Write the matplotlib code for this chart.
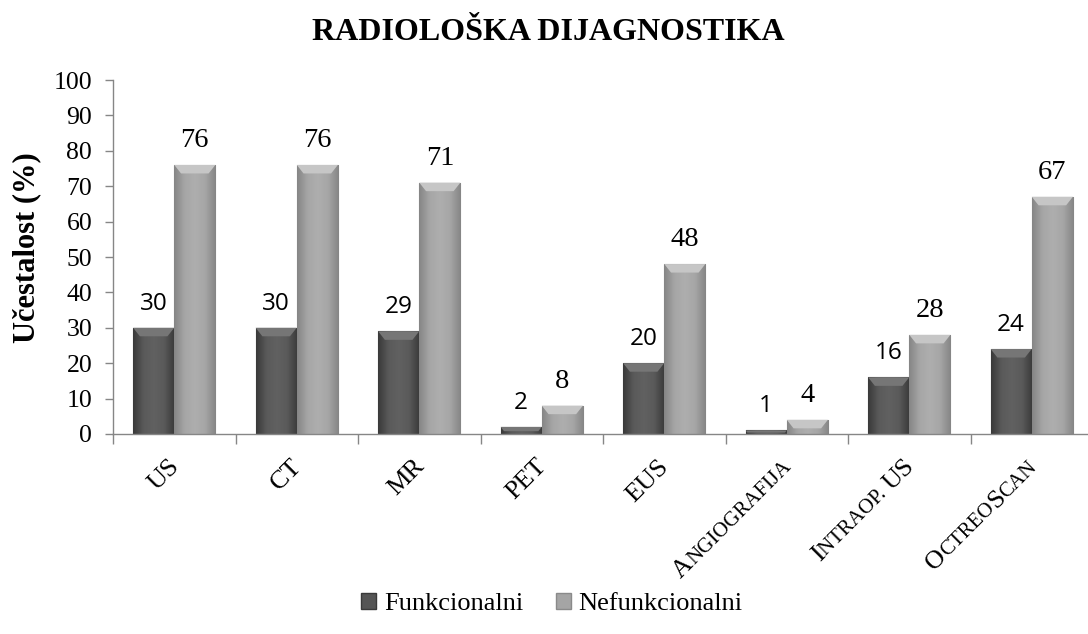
import numpy as np
import matplotlib
matplotlib.use('Agg')
import matplotlib.pyplot as plt
from matplotlib.colors import LinearSegmentedColormap
from matplotlib.patches import Patch, Polygon
from matplotlib.transforms import offset_copy

categories = ['US', 'CT', 'MR', 'PET', 'EUS', 'Angiografija', 'Intraop. US', 'OctreoScan']
funkcionalni = [30, 30, 29, 2, 20, 1, 16, 24]
nefunkcionalni = [76, 76, 71, 8, 48, 4, 28, 67]
series_names = ['Funkcionalni', 'Nefunkcionalni']
yticks = list(range(0, 101, 10))

SERIF = 'Liberation Serif'
SANS = 'Open Sans'
DPI = 100

fig = plt.figure(figsize=(10.88, 6.34), dpi=DPI)
ax = fig.add_axes([113 / 1088, 200 / 634, 980 / 1088, 354 / 634])

x = np.arange(len(categories))
bw = 0.335
off = 0.168

dark_cmap = LinearSegmentedColormap.from_list('d', ['#3a3a3a', '#5a5a5a', '#616161', '#5a5a5a', '#3a3a3a'])
light_cmap = LinearSegmentedColormap.from_list('l', ['#868686', '#a6a6a6', '#aeaeae', '#a6a6a6', '#868686'])

bars_f = ax.bar(x - off, funkcionalni, bw, color='#555555', edgecolor='#3a3a3a', linewidth=0.8, zorder=2)
bars_n = ax.bar(x + off, nefunkcionalni, bw, color='#a5a5a5', edgecolor='#8a8a8a', linewidth=0.8, zorder=2)

grad = np.linspace(0, 1, 64).reshape(1, -1)
for bars, cmap, bevel in [(bars_f, dark_cmap, '#767676'), (bars_n, light_cmap, '#c6c6c6')]:
    for p in bars:
        x0, y0, w, h = p.get_x(), p.get_y(), p.get_width(), p.get_height()
        im = ax.imshow(grad, extent=[x0, x0 + w, y0, y0 + h], aspect='auto', cmap=cmap,
                       zorder=2.5, interpolation='bicubic')
        im.set_clip_path(p)
        bh = min(2.4, h * 0.6)
        ins = min(0.055, bh / 2.4 * 0.055)
        poly = Polygon([[x0, y0 + h], [x0 + w, y0 + h], [x0 + w - ins, y0 + h - bh], [x0 + ins, y0 + h - bh]],
                       closed=True, facecolor=bevel, edgecolor='none', zorder=3)
        ax.add_patch(poly)

for xi, v in zip(x - off, funkcionalni):
    ax.annotate(str(v), (xi, v), xytext=(0, 13), textcoords='offset points', ha='center',
                va='baseline', fontsize=17.5, family=SANS)
for xi, v in zip(x + off, nefunkcionalni):
    ax.annotate(str(v), (xi, v), xytext=(0, 13), textcoords='offset points', ha='center',
                va='baseline', fontsize=20.5, family=SERIF)

ax.set_xlim(-0.5, len(categories) - 0.5)
ax.set_ylim(0, 100)
ax.set_yticks(yticks)
ax.set_yticklabels([str(t) for t in yticks], family=SERIF, fontsize=18.5)
ax.tick_params(axis='y', length=6, width=1, color='#868686', pad=9)
ax.set_xticks(x)
ax.set_xticklabels([])
ax.tick_params(axis='x', which='major', length=0)
ax.set_xticks(np.arange(-0.5, len(categories), 1), minor=True)
ax.tick_params(axis='x', which='minor', length=7, width=1, color='#868686')
for s in ['top', 'right']:
    ax.spines[s].set_visible(False)
for s in ['left', 'bottom']:
    ax.spines[s].set_color('#868686')
    ax.spines[s].set_linewidth(1)

# small caps category labels, built from runs
renderer = fig.canvas.get_renderer()
BIG, SMALL = 19, 15


def runs(label):
    out = []
    for ch in label:
        big = ch.isupper()
        size = BIG if big else SMALL
        if out and out[-1][1] == size:
            out[-1][0] += ch.upper()
        else:
            out.append([ch.upper(), size])
    return out


c45 = np.cos(np.radians(45))
for i, lab in enumerate(categories):
    cum = 0.0
    for txt, size in reversed(runs(lab)):
        t = fig.text(0, 0, txt, fontsize=size, family=SERIF)
        wpx = t.get_window_extent(renderer).width
        t.remove()
        tr = offset_copy(ax.get_xaxis_transform(), fig=fig,
                         x=4 - cum * c45, y=-24 - cum * c45, units='points')
        ax.text(i, 0, txt, transform=tr, fontsize=size, family=SERIF, rotation=45,
                rotation_mode='anchor', ha='right', va='baseline')
        cum += wpx * 72 / DPI

fig.text(548 / 1088, 1 - 33 / 634, 'RADIOLOŠKA DIJAGNOSTIKA', ha='center', va='center',
         fontsize=23, fontweight='bold', family=SERIF)
fig.text(27 / 1088, 1 - 248 / 634, 'Učestalost (%)', rotation=90, ha='center', va='center',
         fontsize=22, fontweight='bold', family=SERIF)

handles = [Patch(facecolor='#555555', edgecolor='#3a3a3a'),
           Patch(facecolor='#a5a5a5', edgecolor='#8a8a8a')]
fig.legend(handles, series_names, loc='center', bbox_to_anchor=(552 / 1088, 1 - 604 / 634),
           ncol=2, frameon=False, prop={'family': SERIF, 'size': 19},
           handlelength=0.55, handleheight=0.55, handletextpad=0.3, columnspacing=1.25)

fig.savefig('out.png', dpi=DPI)
